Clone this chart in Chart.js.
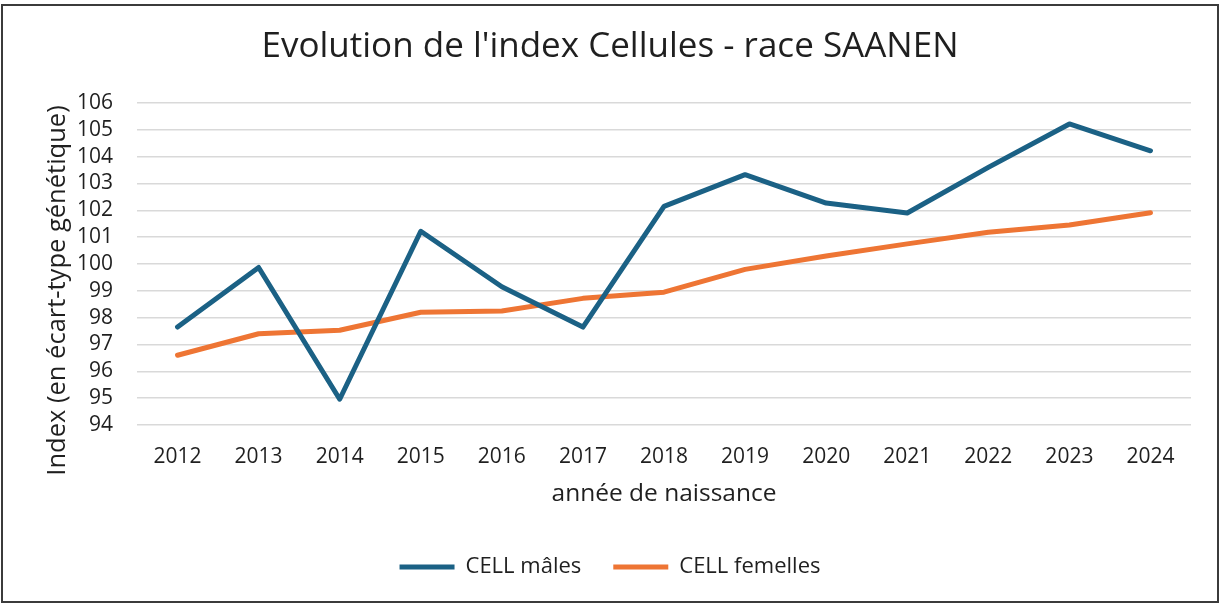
<!DOCTYPE html>
<html>
<head>
<meta charset="utf-8">
<script src="https://cdn.jsdelivr.net/npm/chart.js@4/dist/chart.umd.min.js"></script>
<style>
html,body{margin:0;padding:0;background:#fff;}
#wrap{position:relative;width:1220px;height:604px;}
</style>
</head>
<body>
<div id="wrap"><canvas id="c" width="1220" height="604"></canvas></div>
<script>
const categories = ['2012','2013','2014','2015','2016','2017','2018','2019','2020','2021','2022','2023','2024'];
const cellMales = [97.65, 99.87, 94.96, 101.22, 99.15, 97.65, 102.15, 103.33, 102.27, 101.9, 103.6, 105.22, 104.22];
const cellFemelles = [96.6, 97.4, 97.53, 98.2, 98.25, 98.72, 98.95, 99.8, 100.3, 100.75, 101.18, 101.45, 101.91];
const seriesNames = ['CELL mâles', 'CELL femelles'];
const titleText = "Evolution de l'index Cellules - race SAANEN";
const yTitle = 'Index (en écart-type génétique)';
const xTitle = 'année de naissance';

const FONT = "'Open Sans', 'Noto Sans', sans-serif";
const TXT = '#1f1f1f';

const borderPlugin = {
  id: 'frame',
  afterDraw(chart) {
    const ctx = chart.ctx;
    ctx.save();
    ctx.strokeStyle = '#3b3b3b';
    ctx.lineWidth = 2;
    ctx.strokeRect(2, 5, 1216, 597);
    ctx.restore();
  }
};
const bgPlugin = {
  id: 'bg',
  beforeDraw(chart) {
    const ctx = chart.ctx;
    ctx.save();
    ctx.fillStyle = '#fff';
    ctx.fillRect(0, 0, chart.width, chart.height);
    ctx.restore();
  }
};

new Chart(document.getElementById('c'), {
  type: 'line',
  data: {
    labels: categories,
    datasets: [
      {label: seriesNames[0], data: cellMales, borderColor: '#1b6185', backgroundColor: '#1b6185', borderWidth: 5, pointRadius: 0, tension: 0, borderJoinStyle: 'round', borderCapStyle: 'round', pointStyle: 'line'},
      {label: seriesNames[1], data: cellFemelles, borderColor: '#ee7534', backgroundColor: '#ee7534', borderWidth: 5, pointRadius: 0, tension: 0, borderJoinStyle: 'round', borderCapStyle: 'round', pointStyle: 'line'}
    ]
  },
  options: {
    responsive: false,
    animation: false,
    devicePixelRatio: 1,
    layout: {padding: {left: 0, right: 0, top: 0, bottom: 16}},
    plugins: {
      title: {display: true, text: titleText, color: TXT, font: {family: FONT, size: 35, weight: 'normal'}, padding: {top: 26, bottom: 35}},
      legend: {position: 'bottom', labels: {color: TXT, font: {family: FONT, size: 22}, usePointStyle: true, pointStyleWidth: 55, padding: 32}},
      tooltip: {enabled: false}
    },
    scales: {
      x: {
        offset: true,
        grid: {display: false, drawTicks: false},
        border: {display: false},
        ticks: {color: TXT, font: {family: FONT, size: 21}, padding: 19.5, maxRotation: 0, autoSkip: false},
        title: {display: true, text: xTitle, color: TXT, font: {family: FONT, size: 24.5}, padding: {top: 0, bottom: 15.3}},
        afterFit(s) { s.height = 99; }
      },
      y: {
        min: 94, max: 106,
        grid: {color: '#d9d9d9', lineWidth: 1.5, drawTicks: false},
        border: {display: false},
        ticks: {stepSize: 1, color: TXT, font: {family: FONT, size: 21}, padding: 24, autoSkip: false},
        title: {display: true, text: yTitle + '        ', color: TXT, font: {family: FONT, size: 25.5}, padding: {top: 42.7, bottom: 0}},
        afterFit(s) { s.width = 137; }
      },
      yRight: {
        position: 'right',
        min: 0, max: 1,
        grid: {display: false, drawTicks: false},
        border: {display: false},
        ticks: {display: false},
        afterFit(s) { s.width = 29; }
      }
    }
  },
  plugins: [bgPlugin, borderPlugin]
});
</script>
</body>
</html>
